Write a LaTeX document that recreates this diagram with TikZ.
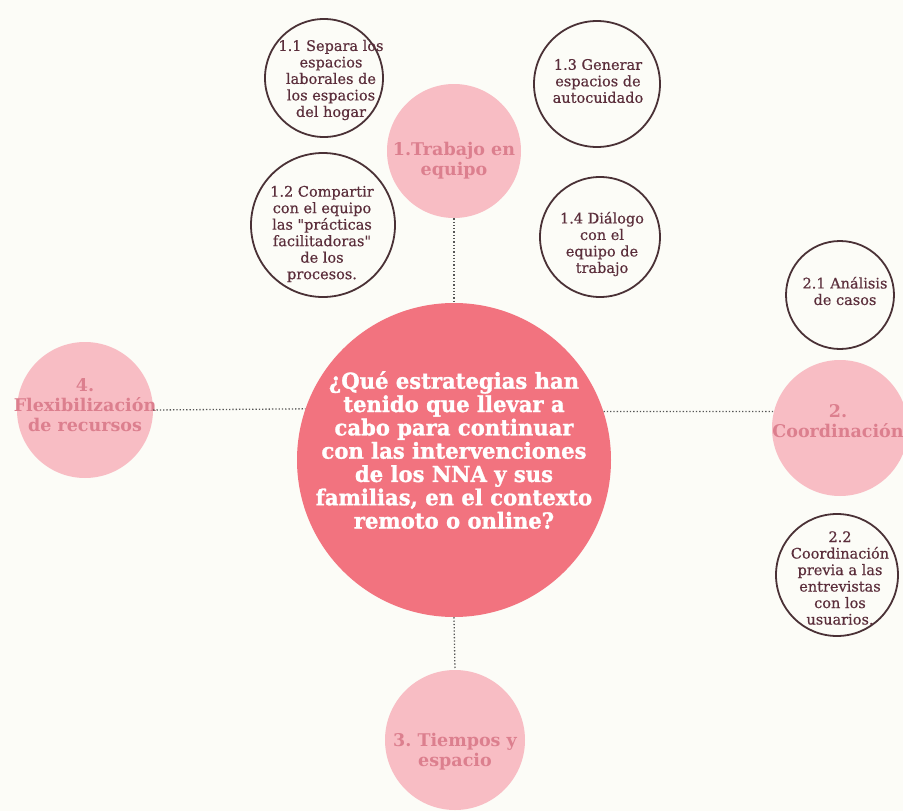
\documentclass[tikz,border=0pt]{standalone}
\usepackage{fontspec}
\setmainfont{DejaVu Serif}
\newfontfamily\headfont{DejaVu Serif}[FakeStretch=0.96,FakeBold=1.2]
\newfontfamily\ringfont{DejaVu Serif}[FakeBold=0.5]
\frenchspacing
\definecolor{bg}{HTML}{FCFCF7}
\definecolor{core}{HTML}{F2737F}
\definecolor{petal}{HTML}{F8BDC4}
\definecolor{petaltext}{HTML}{DC7F8E}
\definecolor{ring}{HTML}{4A3136}
\definecolor{ringtext}{HTML}{5B2E3B}
\definecolor{dots}{HTML}{555555}
\tikzset{
  corebox/.style={circle, fill=core, inner sep=0pt, minimum size=#1},
  petalbox/.style={circle, fill=petal, inner sep=0pt, minimum size=#1},
  ringbox/.style={circle, draw=ring, line width=1.8pt, inner sep=0pt, minimum size=#1},
  coretext/.style={inner sep=0pt, align=center, text=white,
    font=\headfont\bfseries\fontsize{22}{23.3}\selectfont},
  petaltxt/.style={inner sep=0pt, align=center, text=petaltext,
    font=\bfseries\fontsize{17.5}{20}\selectfont},
  ringtxt/.style={inner sep=0pt, align=center, text=ringtext,
    font=\ringfont\fontsize{14.5}{16.5}\selectfont},
  link/.style={draw=dots, line width=1.3pt, dotted}
}
\begin{document}
\begin{tikzpicture}[x=1pt,y=-1pt]
  \fill[bg] (0,0) rectangle (903,811);
  \useasboundingbox (0,0) rectangle (903,811);

  % central question
  \node[corebox=314pt] (core) at (454,460) {};
  \node[coretext] (qcore) at (454,450) {¿Qué estrategias han\\tenido que llevar a\\cabo para continuar\\con las intervenciones\\de los NNA y sus\\familias, en el contexto\\remoto o online?};

  % four main strategies
  \node[petalbox=134pt] (trab) at (454,151) {};
  \node[petaltxt] (ttrab) at (454,161) {1.Trabajo en\\equipo};
  \node[petalbox=136pt] (coord) at (840,428) {};
  \node[petaltxt] (tcoord) at (838,421) {2.\\Coordinación};
  \node[petalbox=140pt] (tiem) at (455,740) {};
  \node[petaltxt] (ttiem) at (455,752) {3. Tiempos y\\espacio};
  \node[petalbox=136pt] (flex) at (85,410) {};
  \node[petaltxt] (tflex) at (85,405) {4.\\Flexibilización\\de recursos};

  % sub-strategies
  \node[ringbox=118pt] (c11) at (324,78) {};
  \node[ringtxt] (t11) at (331,80) {1.1 Separa los\\espacios\\laborales de\\los espacios\\del hogar};
  \node[ringbox=144pt] (c12) at (323,225) {};
  \node[ringtxt] (t12) at (322,234) {1.2 Compartir\\con el equipo\\las "prácticas\\facilitadoras"\\de los\\procesos.};
  \node[ringbox=126pt] (c13) at (597,84) {};
  \node[ringtxt] (t13) at (598,81) {1.3 Generar\\espacios de\\autocuidado};
  \node[ringbox=120pt] (c14) at (600,237) {};
  \node[ringtxt] (t14) at (602,244) {1.4 Diálogo\\con el\\equipo de\\trabajo};
  \node[ringbox=108pt] (c21) at (840,295) {};
  \node[ringtxt] (t21) at (845,291) {2.1 Análisis\\de casos};
  \node[ringbox=122pt] (c22) at (837,575) {};
  \node[ringtxt] (t22) at (840,578) {2.2\\Coordinación\\previa a las\\entrevistas\\con los\\usuarios.};

  % dotted links
  \draw[link] (trab.south) -- (core.north);
  \draw[link] (core.south) -- (tiem.north);
  \draw[link] (flex.east) -- (core.161.4);
  \draw[link] (core.18.6) -- (coord.166.4);
\end{tikzpicture}
\end{document}
